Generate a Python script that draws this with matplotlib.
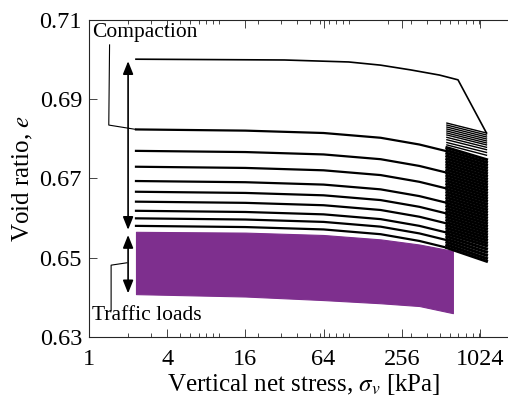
import numpy as np
import matplotlib
matplotlib.use("Agg")
import matplotlib.pyplot as plt
from matplotlib.ticker import LogLocator, NullFormatter

# stress levels [kPa] used along the curves
stress_first = [2.3, 32, 100, 176, 300, 500, 694, 1150]
e_first = [0.7000, 0.6998, 0.6993, 0.6985, 0.6973, 0.6960, 0.6948, 0.6814]

stress_reload = [2.3, 16, 64, 176, 350, 570]
e_reload = [
    [0.6823, 0.6820, 0.6814, 0.6802, 0.6785, 0.6768],
    [0.6769, 0.6766, 0.6760, 0.6748, 0.6731, 0.6714],
    [0.6729, 0.6726, 0.6720, 0.6708, 0.6691, 0.6674],
    [0.6693, 0.6690, 0.6684, 0.6672, 0.6655, 0.6638],
    [0.6666, 0.6663, 0.6657, 0.6645, 0.6628, 0.6611],
    [0.6641, 0.6638, 0.6632, 0.6620, 0.6603, 0.6586],
    [0.6618, 0.6615, 0.6609, 0.6597, 0.6580, 0.6563],
    [0.6599, 0.6596, 0.6590, 0.6578, 0.6561, 0.6544],
    [0.6580, 0.6577, 0.6571, 0.6559, 0.6542, 0.6525],
]

# load cycles between 570 and 1150 kPa
cycle_stress = [570, 1150]
cycle_hi = [0.6839, 0.6834, 0.6829, 0.6824, 0.6819, 0.6814, 0.6809, 0.6803,
            0.6797, 0.6790, 0.6784]
cycle_lo = [0.6814, 0.6809, 0.6804, 0.6799, 0.6794, 0.6789, 0.6784, 0.6778,
            0.6772, 0.6765, 0.6758]
dense_hi = [0.6777, 0.6770, 0.6763, 0.6756, 0.6749, 0.6742, 0.6735, 0.6728,
            0.6721, 0.6714, 0.6707, 0.6700, 0.6693, 0.6686, 0.6679, 0.6672,
            0.6665, 0.6658, 0.6651, 0.6644, 0.6637, 0.6630, 0.6623, 0.6616,
            0.6609, 0.6602, 0.6595, 0.6588, 0.6581, 0.6574, 0.6567, 0.6560,
            0.6553, 0.6546, 0.6539, 0.6532, 0.6525]
dense_lo = [0.6747, 0.6740, 0.6733, 0.6726, 0.6719, 0.6712, 0.6705, 0.6698,
            0.6691, 0.6684, 0.6677, 0.6670, 0.6663, 0.6656, 0.6649, 0.6642,
            0.6635, 0.6628, 0.6621, 0.6614, 0.6607, 0.6600, 0.6593, 0.6586,
            0.6579, 0.6572, 0.6565, 0.6558, 0.6551, 0.6544, 0.6537, 0.6530,
            0.6522, 0.6514, 0.6506, 0.6498, 0.6491]

# traffic load band
stress_traffic = [2.3, 16, 64, 176, 350, 634]
e_traffic_top = [0.6565, 0.6563, 0.6557, 0.6546, 0.6533, 0.6517]
e_traffic_bot = [0.6408, 0.6402, 0.6393, 0.6385, 0.6378, 0.6360]

xticks = [1, 4, 16, 64, 256, 1024]
yticks = [0.63, 0.65, 0.67, 0.69, 0.71]

plt.rcParams['font.family'] = ['Liberation Serif', 'DejaVu Serif']
plt.rcParams['mathtext.fontset'] = 'stix'
plt.rcParams['font.size'] = 15.5

fig = plt.figure(figsize=(5.08, 4.03), dpi=100)
ax = fig.add_axes([0.1752, 0.1638, 1.0217 - 0.1752, 0.9516 - 0.1638])

purple = '#7E2F8E'
ax.fill_between(stress_traffic, e_traffic_bot, e_traffic_top, color=purple,
                lw=0.8, edgecolor=purple)

ax.plot(stress_first, e_first, color='k', lw=1.2)
for e in e_reload:
    ax.plot(stress_reload, e, color='k', lw=1.6)
for hi, lo in zip(cycle_hi, cycle_lo):
    ax.plot(cycle_stress, [hi, lo], color='k', lw=1.0)
for hi, lo in zip(dense_hi, dense_lo):
    ax.plot(cycle_stress, [hi, lo], color='k', lw=2.2)

# arrows and labels
arrow = dict(arrowstyle='<|-|>,head_length=0.5,head_width=0.2', color='k',
             lw=1.2, shrinkA=0, shrinkB=0)
ax.annotate('', xy=(2, 0.6995), xytext=(2, 0.6570), arrowprops=arrow)
ax.annotate('', xy=(2, 0.6557), xytext=(2, 0.6410), arrowprops=arrow)

ax.text(1.055, 0.7068, 'Compaction', va='center', ha='left')
ax.plot([1.44, 1.42, 2.3], [0.7036, 0.6834, 0.6823], color='k', lw=0.8)
ax.text(1.055, 0.6353, 'Traffic loads', va='center', ha='left')
ax.plot([1.48, 1.48, 1.96], [0.6366, 0.6481, 0.6487], color='k', lw=0.8)

ax.set_xscale('log', base=2)
ax.set_xlim(1, 2048)
ax.set_ylim(0.63, 0.71)
ax.set_xticks(xticks)
ax.set_xticklabels([str(t) for t in xticks])
ax.xaxis.set_minor_locator(LogLocator(base=10, subs=np.arange(1, 10)))
ax.xaxis.set_minor_formatter(NullFormatter())
ax.set_yticks(yticks)
ax.set_yticklabels(['%.2f' % t for t in yticks])
ax.tick_params(which='both', direction='in', top=True, right=True,
               color='#262626', labelsize=17.5)
ax.tick_params(which='major', length=5.5, width=0.6)
ax.tick_params(which='minor', length=3, width=0.6)
ax.tick_params(axis='x', pad=9)
ax.tick_params(axis='y', pad=5)
for s in ax.spines.values():
    s.set_color('#262626')
    s.set_linewidth(0.8)

ax.set_xlabel(r'Vertical net stress, $\sigma_v$ [kPa]', fontsize=18, labelpad=1)
ax.set_ylabel(r'Void ratio, $e$', fontsize=18, labelpad=3)

fig.savefig('out.png', dpi=100)
